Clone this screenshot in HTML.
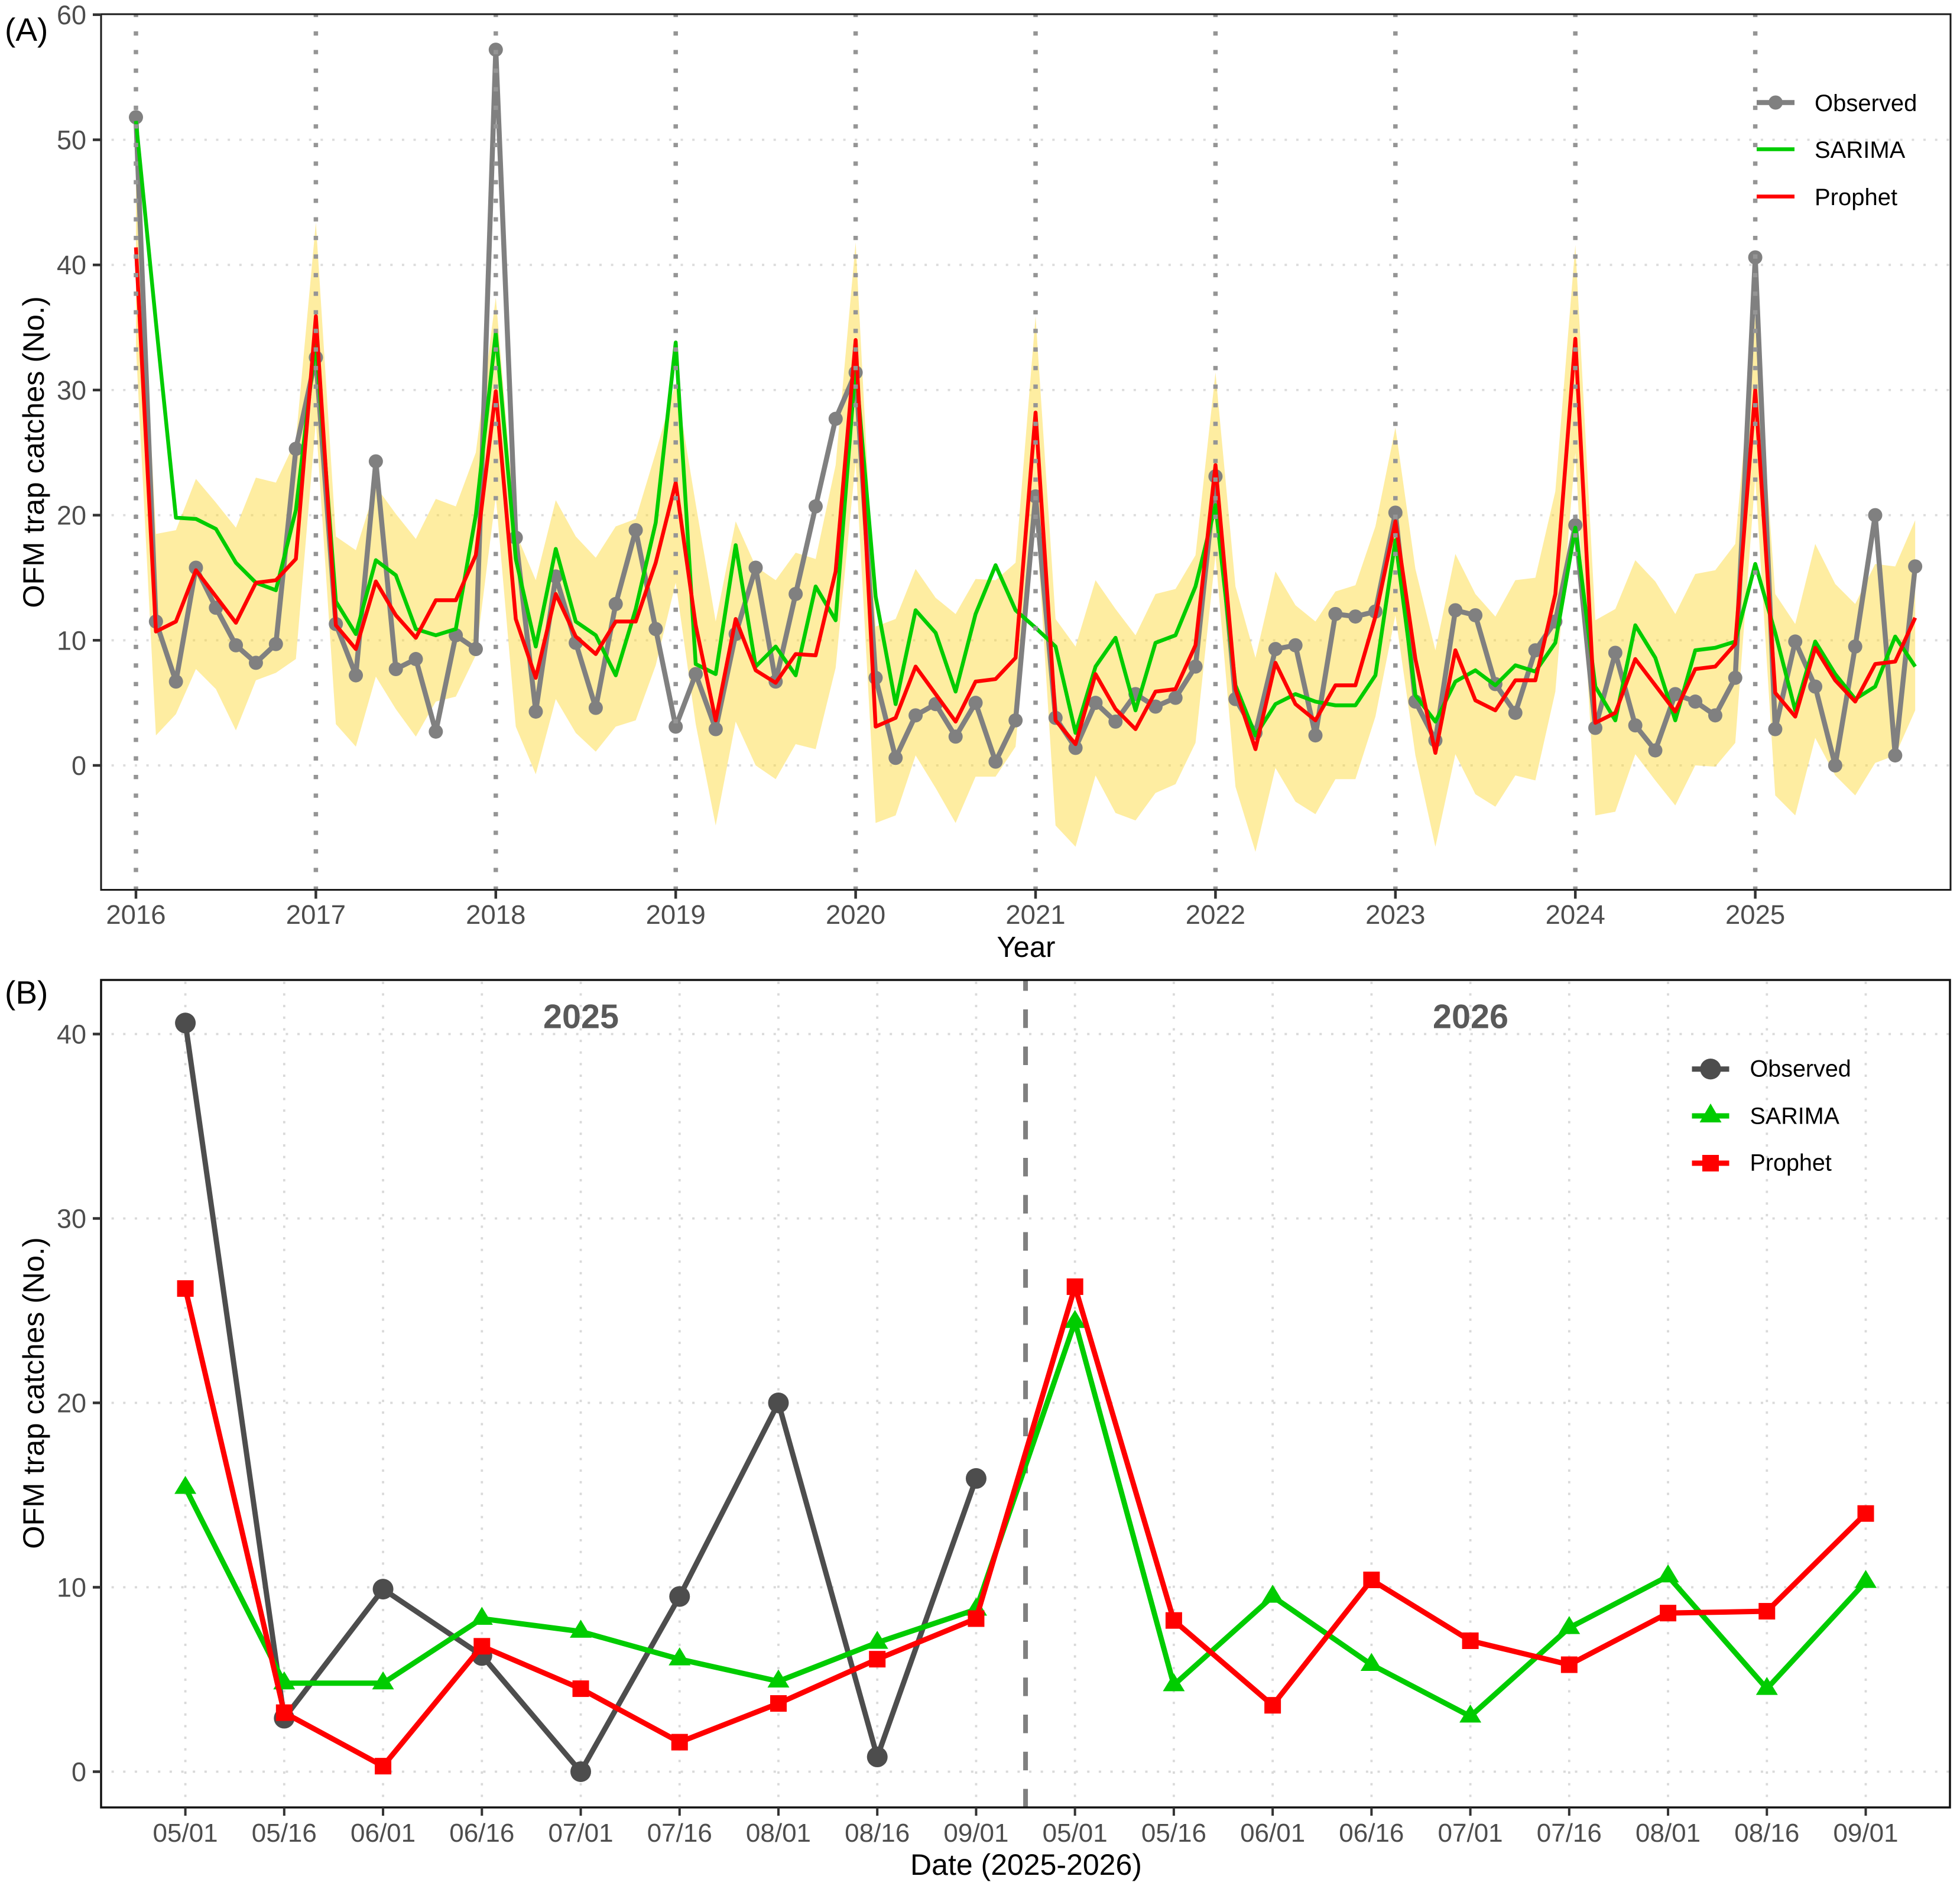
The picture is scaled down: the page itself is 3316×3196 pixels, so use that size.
<!DOCTYPE html>
<html lang="en">
<head>
<meta charset="utf-8">
<title>OFM trap catches: observed, SARIMA and Prophet</title>
<style>
html,body{margin:0;padding:0;background:#fff}
svg{display:block;font-family:"Liberation Sans",Arial,sans-serif}
</style>
</head>
<body>
<svg id="chart" xmlns="http://www.w3.org/2000/svg" width="3316" height="3196" viewBox="0 0 3316 3196">
  <rect x="0" y="0" width="3316" height="3196" fill="#fff"/>
  <g id="panelA"></g>
  <g id="panelB"></g>

  <text x="8" y="69" font-size="55" fill="#000">(A)</text>
  <text x="8" y="1698" font-size="55" fill="#000">(B)</text>
  <text transform="translate(74,765) rotate(-90)" text-anchor="middle" font-size="50.5" fill="#000">OFM trap catches (No.)</text>
  <text x="1736" y="1619" text-anchor="middle" font-size="49" fill="#000">Year</text>
  <text transform="translate(74,2357) rotate(-90)" text-anchor="middle" font-size="50.5" fill="#000">OFM trap catches (No.)</text>
  <text x="1736" y="3172" text-anchor="middle" font-size="50" fill="#000">Date (2025-2026)</text>
  <text x="983" y="1739.5" text-anchor="middle" font-size="57.5" font-weight="bold" fill="#595959">2025</text>
  <text x="2488" y="1739.5" text-anchor="middle" font-size="57.5" font-weight="bold" fill="#595959">2026</text>

  <g>
    <g>
      <line x1="2972" x2="3036" y1="173.5" y2="173.5" stroke="#808080" stroke-width="8.5"/>
      <circle cx="3004" cy="173.5" r="12" fill="#808080"/>
      <text x="3070" y="188" font-size="40" fill="#000">Observed</text>
    </g>
    <g>
      <line x1="2972" x2="3036" y1="252.5" y2="252.5" stroke="#00CC00" stroke-width="6.5"/>
      <text x="3070" y="267" font-size="40" fill="#000">SARIMA</text>
    </g>
    <g>
      <line x1="2972" x2="3036" y1="332.5" y2="332.5" stroke="#FF0000" stroke-width="6.5"/>
      <text x="3070" y="347" font-size="40" fill="#000">Prophet</text>
    </g>
  </g>

  <g>
    <g>
      <line x1="2862.5" x2="2925.5" y1="1808.7" y2="1808.7" stroke="#4D4D4D" stroke-width="9"/>
      <circle cx="2894" cy="1808.7" r="17.7" fill="#4D4D4D"/>
      <text x="2960.5" y="1821.7" font-size="39.5" fill="#000">Observed</text>
    </g>
    <g>
      <line x1="2862.5" x2="2925.5" y1="1888" y2="1888" stroke="#00CC00" stroke-width="9"/>
      <polygon points="2894,1867 2912.5,1899 2875.5,1899" fill="#00CC00"/>
      <text x="2960.5" y="1901.7" font-size="39.5" fill="#000">SARIMA</text>
    </g>
    <g>
      <line x1="2862.5" x2="2925.5" y1="1968" y2="1968" stroke="#FF0000" stroke-width="9"/>
      <rect x="2880" y="1954" width="28" height="28" fill="#FF0000"/>
      <text x="2960.5" y="1980.7" font-size="39.5" fill="#000">Prophet</text>
    </g>
  </g>
</svg>

<script>
// ---------- Panel A data ----------
const yearTicksA = [2016, 2017, 2018, 2019, 2020, 2021, 2022, 2023, 2024, 2025];
const yTicksA = [0, 10, 20, 30, 40, 50, 60];
const observedA = [
  51.8, 11.5, 6.7, 15.8, 12.6, 9.6, 8.2, 9.7, 25.3,
  32.6, 11.3, 7.2, 24.3, 7.7, 8.5, 2.7, 10.4, 9.3,
  57.2, 18.2, 4.3, 15.1, 9.8, 4.6, 12.9, 18.8, 10.9,
  3.1, 7.3, 2.9, 10.5, 15.8, 6.7, 13.7, 20.7, 27.7,
  31.4, 7.0, 0.6, 4.0, 4.9, 2.3, 5.0, 0.3, 3.6,
  21.5, 3.8, 1.4, 5.0, 3.5, 5.7, 4.7, 5.4, 7.9,
  23.1, 5.3, 2.6, 9.3, 9.6, 2.4, 12.1, 11.9, 12.3,
  20.2, 5.1, 2.0, 12.4, 12.0, 6.5, 4.2, 9.2, 11.5,
  19.2, 3.0, 9.0, 3.2, 1.2, 5.7, 5.1, 4.0, 7.0,
  40.6, 2.9, 9.9, 6.3, 0.0, 9.5, 20.0, 0.8, 15.9
];
const sarimaA = [
  51.5, 35.4, 19.8, 19.7, 18.9, 16.2, 14.6, 14.0, 20.4,
  34.0, 13.1, 10.5, 16.4, 15.2, 10.9, 10.4, 10.9, 20.0,
  34.6, 16.5, 9.5, 17.3, 11.5, 10.4, 7.2, 12.5, 19.4,
  33.8, 8.1, 7.3, 17.6, 7.9, 9.5, 7.2, 14.3, 11.6,
  32.0, 13.5, 4.9, 12.4, 10.6, 5.9, 12.1, 16.0, 12.4,
  11.0, 9.5, 2.6, 7.9, 10.2, 4.4, 9.8, 10.4, 14.3,
  20.8, 6.4, 2.4, 4.9, 5.7, 5.1, 4.8, 4.8, 7.2,
  18.0, 5.6, 3.5, 6.7, 7.6, 6.4, 8.0, 7.5, 9.8,
  19.0, 6.3, 3.6, 11.2, 8.6, 3.6, 9.2, 9.4, 9.9,
  16.1, 10.6, 4.4, 9.9, 7.3, 5.3, 6.3, 10.3, 7.9
];
const prophetA = [
  41.4, 10.7, 11.5, 15.6, 13.5, 11.4, 14.6, 14.8, 16.5,
  35.9, 11.2, 9.3, 14.7, 12.0, 10.2, 13.2, 13.2, 16.8,
  29.9, 11.7, 7.0, 13.7, 10.3, 8.9, 11.5, 11.5, 16.2,
  22.6, 11.2, 3.6, 11.7, 7.6, 6.6, 8.9, 8.8, 15.5,
  34.0, 3.1, 3.8, 7.9, 5.7, 3.5, 6.7, 6.9, 8.6,
  28.2, 3.6, 1.7, 7.3, 4.5, 2.9, 5.9, 6.1, 9.6,
  24.0, 6.1, 1.3, 8.2, 4.9, 3.6, 6.4, 6.4, 11.9,
  19.5, 8.5, 1.0, 9.2, 5.2, 4.4, 6.8, 6.8, 13.7,
  34.1, 3.4, 4.2, 8.5, 6.4, 4.3, 7.7, 7.9, 9.7,
  30.0, 5.8, 3.9, 9.4, 6.8, 5.1, 8.1, 8.3, 11.8
];
const bandUpperA = [
  49.5, 18.5, 18.8, 22.9, 21.0, 19.0, 23.0, 22.6, 26.0,
  43.4, 18.3, 17.2, 22.3, 20.1, 18.1, 21.3, 20.7, 25.0,
  37.4, 18.6, 14.8, 21.2, 18.3, 16.6, 19.1, 19.7, 25.0,
  30.6, 20.9, 11.5, 19.5, 15.9, 14.8, 17.0, 16.5, 24.0,
  41.8, 11.1, 11.7, 15.7, 13.4, 12.1, 14.9, 14.8, 16.2,
  35.9, 11.7, 9.5, 14.8, 12.5, 10.4, 13.7, 14.1, 16.8,
  31.4, 14.3, 8.6, 15.5, 12.8, 11.5, 13.9, 14.4, 19.1,
  27.0, 15.7, 9.2, 16.9, 13.7, 11.9, 14.8, 15.0, 21.9,
  41.6, 11.6, 12.5, 16.4, 14.7, 12.1, 15.3, 15.6, 17.7,
  35.9, 13.7, 11.3, 17.7, 14.5, 12.9, 16.1, 15.9, 19.6
];
const bandLowerA = [
  33.4, 2.4, 4.1, 7.7, 6.1, 2.8, 6.8, 7.4, 8.5,
  27.5, 3.3, 1.5, 7.1, 4.5, 2.3, 5.1, 5.5, 8.8,
  21.5, 3.1, -0.7, 5.3, 2.6, 1.1, 3.1, 3.6, 8.0,
  14.6, 3.3, -4.8, 3.5, 0.0, -1.1, 1.7, 1.3, 7.8,
  24.3, -4.6, -4.0, 0.8, -1.8, -4.6, -0.9, -0.9, 1.5,
  20.5, -4.8, -6.5, -0.8, -3.8, -4.4, -2.2, -1.5, 1.8,
  16.8, -1.7, -6.9, -0.2, -2.9, -3.9, -1.1, -1.1, 3.9,
  12.0, 0.8, -6.5, 0.9, -2.3, -3.3, -0.8, -1.2, 5.9,
  25.0, -4.0, -3.7, 0.9, -1.2, -3.2, 0.0, -0.1, 1.8,
  23.0, -2.4, -4.0, 2.2, -0.8, -2.4, 0.2, 0.8, 4.4
];

// ---------- Panel B data ----------
const dateLabelsB = ['05/01','05/16','06/01','06/16','07/01','07/16','08/01','08/16','09/01',
                     '05/01','05/16','06/01','06/16','07/01','07/16','08/01','08/16','09/01'];
const yTicksB = [0, 10, 20, 30, 40];
const observedB = [40.6, 2.9, 9.9, 6.3, 0.0, 9.5, 20.0, 0.8, 15.9];
const sarimaB = [15.4, 4.8, 4.8, 8.3, 7.6, 6.1, 4.9, 7.0, 8.8, 24.4, 4.7, 9.5, 5.8, 3.0, 7.8, 10.6, 4.5, 10.3];
const prophetB = [26.2, 3.2, 0.3, 6.8, 4.5, 1.6, 3.7, 6.1, 8.3, 26.3, 8.2, 3.6, 10.4, 7.1, 5.8, 8.6, 8.7, 14.0];
const seasonBreakB = 8.5;

// ---------- Axis functions ----------
const frameA = {l: 171, r: 3300, t: 24, b: 1505.5};
const frameB = {l: 171, r: 3299, t: 1658, b: 3058};
const samplesPerYear = 9;
function xA(i) { return 230 + (304.4 / samplesPerYear) * i; }
function xYear(y) { return xA((y - yearTicksA[0]) * samplesPerYear); }
function yA(v) { return 1295 - 21.17 * v; }
function xB(i) { return 313.6 + 167.23 * i; }
function yB(v) { return 2997.5 - 31.2 * v; }

const NS = 'http://www.w3.org/2000/svg';
function add(parent, tag, attrs, txt) {
  const el = document.createElementNS(NS, tag);
  for (const k in attrs) el.setAttribute(k, attrs[k]);
  if (txt !== undefined) el.textContent = txt;
  parent.appendChild(el);
  return el;
}
function pts(values, xf, yf) {
  return values.map((v, i) => xf(i).toFixed(2) + ',' + yf(v).toFixed(2)).join(' ');
}
const SERIES_STYLE = {fill: 'none', 'stroke-linejoin': 'round', 'stroke-linecap': 'butt'};

// ---------- Panel A ----------
const gA = document.getElementById('panelA');

yTicksA.forEach(v => {
  if (v === 60) return;
  const grid = add(gA, 'line', {x1: frameA.l - 2, x2: frameA.r, y1: yA(v), y2: yA(v), stroke: '#dcdcdc', 'stroke-width': 3.8, 'stroke-dasharray': '4 15.65'});
  
  
});

const band = add(gA, 'polygon', {
  points: pts(bandUpperA, xA, yA) + ' ' + bandLowerA.map((v, i) => [xA(i), yA(v)]).reverse().map(p => p[0].toFixed(2) + ',' + p[1].toFixed(2)).join(' '),
  fill: '#FCD82E', 'fill-opacity': 0.45
});



const obsLineA = add(gA, 'polyline', Object.assign({points: pts(observedA, xA, yA), stroke: '#808080', 'stroke-width': 8.5}, SERIES_STYLE));


observedA.forEach((v, i) => {
  const dot = add(gA, 'circle', {cx: xA(i), cy: yA(v), r: 12, fill: '#808080'});
  
  
});

const sarLineA = add(gA, 'polyline', Object.assign({points: pts(sarimaA, xA, yA), stroke: '#00CC00', 'stroke-width': 6.5}, SERIES_STYLE));



const proLineA = add(gA, 'polyline', Object.assign({points: pts(prophetA, xA, yA), stroke: '#FF0000', 'stroke-width': 6.5}, SERIES_STYLE));



yearTicksA.forEach(y => {
  const vl = add(gA, 'line', {x1: xYear(y), x2: xYear(y), y1: frameA.b + 1.5, y2: frameA.t, stroke: '#959595', 'stroke-width': 7.5, 'stroke-dasharray': '7.3 24.15'});
  
  
});

const frameRectA = add(gA, 'rect', {x: frameA.l, y: frameA.t, width: frameA.r - frameA.l, height: frameA.b - frameA.t, fill: 'none', stroke: '#1a1a1a', 'stroke-width': 3});



yTicksA.forEach(v => {
  const tick = add(gA, 'line', {x1: 157, x2: frameA.l, y1: yA(v), y2: yA(v), stroke: '#333', 'stroke-width': 4.5});
  
  
  const lab = add(gA, 'text', {x: 146, y: yA(v) + 16, 'text-anchor': 'end', 'font-size': 45, fill: '#4D4D4D'}, String(v));
  
  
});
yearTicksA.forEach(y => {
  const tick = add(gA, 'line', {x1: xYear(y), x2: xYear(y), y1: frameA.b, y2: frameA.b + 15, stroke: '#333', 'stroke-width': 4.5});
  
  
  const lab = add(gA, 'text', {x: xYear(y), y: 1563, 'text-anchor': 'middle', 'font-size': 45.5, fill: '#4D4D4D'}, String(y));
  
  
});

// ---------- Panel B ----------
const gB = document.getElementById('panelB');

yTicksB.forEach(v => {
  const grid = add(gB, 'line', {x1: frameB.l - 2, x2: frameB.r, y1: yB(v), y2: yB(v), stroke: '#d9d9d9', 'stroke-width': 3.8, 'stroke-dasharray': '4 15.65'});
  
  
});
dateLabelsB.forEach((d, i) => {
  const grid = add(gB, 'line', {x1: xB(i), x2: xB(i), y1: frameB.b + 2, y2: frameB.t, stroke: '#d9d9d9', 'stroke-width': 3.8, 'stroke-dasharray': '4 15.65'});
  
  
});

const breakLine = add(gB, 'line', {x1: xB(seasonBreakB), x2: xB(seasonBreakB), y1: frameB.b, y2: frameB.t, stroke: '#808080', 'stroke-width': 8, 'stroke-dasharray': '31.4 31.4'});



const obsLineB = add(gB, 'polyline', Object.assign({points: pts(observedB, xB, yB), stroke: '#4D4D4D', 'stroke-width': 9}, SERIES_STYLE));


observedB.forEach((v, i) => {
  const dot = add(gB, 'circle', {cx: xB(i), cy: yB(v), r: 17.5, fill: '#4D4D4D'});
  
  
});

const sarLineB = add(gB, 'polyline', Object.assign({points: pts(sarimaB, xB, yB), stroke: '#00CC00', 'stroke-width': 9}, SERIES_STYLE));


sarimaB.forEach((v, i) => {
  const cx = xB(i), cy = yB(v);
  const tri = add(gB, 'polygon', {points: cx + ',' + (cy - 20) + ' ' + (cx + 18.5) + ',' + (cy + 10.5) + ' ' + (cx - 18.5) + ',' + (cy + 10.5), fill: '#00CC00'});
  
  
});

const proLineB = add(gB, 'polyline', Object.assign({points: pts(prophetB, xB, yB), stroke: '#FF0000', 'stroke-width': 9}, SERIES_STYLE));


prophetB.forEach((v, i) => {
  const sq = add(gB, 'rect', {x: xB(i) - 14, y: yB(v) - 14, width: 28, height: 28, fill: '#FF0000'});
  
  
});

const frameRectB = add(gB, 'rect', {x: frameB.l, y: frameB.t, width: frameB.r - frameB.l, height: frameB.b - frameB.t, fill: 'none', stroke: '#111', 'stroke-width': 3.5});



yTicksB.forEach(v => {
  const tick = add(gB, 'line', {x1: 157, x2: frameB.l, y1: yB(v), y2: yB(v), stroke: '#333', 'stroke-width': 4.5});
  
  
  const lab = add(gB, 'text', {x: 146, y: yB(v) + 16, 'text-anchor': 'end', 'font-size': 45, fill: '#4D4D4D'}, String(v));
  
  
});
dateLabelsB.forEach((d, i) => {
  const tick = add(gB, 'line', {x1: xB(i), x2: xB(i), y1: frameB.b, y2: frameB.b + 14, stroke: '#333', 'stroke-width': 4});
  
  
  const lab = add(gB, 'text', {x: xB(i), y: 3116, 'text-anchor': 'middle', 'font-size': 44, fill: '#4D4D4D'}, d);
  
  
});
</script>
</body>
</html>
